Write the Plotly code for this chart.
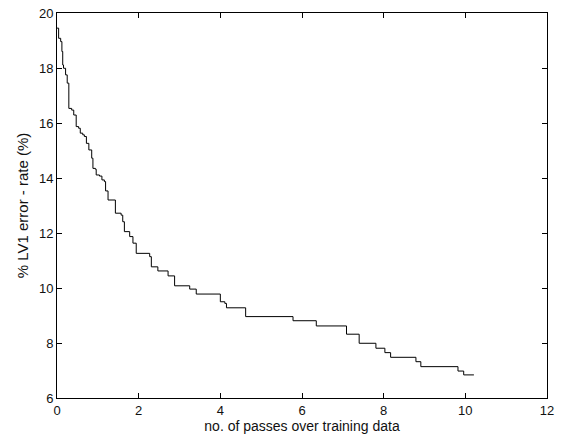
import plotly.graph_objects as go

# step start positions (passes) and error-rate levels (%)
passes = [0.0, 0.04, 0.09, 0.12, 0.14, 0.16, 0.21, 0.25, 0.29, 0.36, 0.41, 0.47, 0.53, 0.57,
          0.63, 0.67, 0.72, 0.78, 0.85, 0.88, 0.94, 0.96, 1.04, 1.10, 1.16, 1.19, 1.25,
          1.43, 1.57, 1.61, 1.65, 1.78, 1.86, 1.94, 2.27, 2.31, 2.47, 2.72, 2.88, 3.25,
          3.41, 4.00, 4.11, 4.15, 4.62, 5.78, 6.35, 7.09, 7.40, 7.81, 8.03, 8.17, 8.79,
          8.91, 9.82, 9.96, 10.21]
error_rate = [19.45, 19.08, 18.96, 18.6, 18.11, 17.99, 17.75, 17.45, 16.53, 16.47, 16.29, 15.87,
              15.81, 15.63, 15.57, 15.51, 15.26, 15.02, 14.72, 14.35, 14.32, 14.11, 14.07,
              13.93, 13.87, 13.53, 13.2, 12.72, 12.65, 12.41, 12.05, 11.87, 11.63, 11.26,
              11.14, 10.77, 10.62, 10.44, 10.08, 9.96, 9.78, 9.5, 9.44, 9.28, 8.96, 8.81,
              8.62, 8.32, 7.99, 7.81, 7.65, 7.48, 7.32, 7.14, 6.98, 6.84, 6.84]

x_ticks = [0, 2, 4, 6, 8, 10, 12]
y_ticks = [6, 8, 10, 12, 14, 16, 18, 20]

fig = go.Figure()
fig.add_trace(go.Scatter(x=passes, y=error_rate, mode="lines", line_shape="hv",
                         line=dict(color="black", width=1), showlegend=False,
                         hoverinfo="skip"))

FONT = "Liberation Sans, Arial, sans-serif"
axis_common = dict(showline=True, linecolor="black", linewidth=1, mirror="ticks",
                   ticks="inside", ticklen=5, tickcolor="black", tickwidth=1,
                   showgrid=False, zeroline=False,
                   tickfont=dict(family=FONT, size=13, color="#111111"))

fig.update_layout(
    width=562, height=443,
    margin=dict(l=57, r=15, t=13, b=45, autoexpand=False),
    paper_bgcolor="white", plot_bgcolor="white",
    font=dict(family=FONT, size=13, color="#111111"),
    xaxis=dict(range=[0, 12], tickvals=x_ticks, ticktext=[str(v) for v in x_ticks],
               title=dict(text="no. of passes over training data",
                          font=dict(size=14), standoff=4), **axis_common),
    yaxis=dict(range=[6, 20], tickvals=y_ticks, ticktext=[str(v) for v in y_ticks],
               title=dict(text="% LV1 error - rate (%)", font=dict(size=15), standoff=6),
               **axis_common),
)

fig.write_html("out.html", config={"displayModeBar": False},
               post_script="document.body.style.margin='0';document.body.style.overflow='hidden';")
